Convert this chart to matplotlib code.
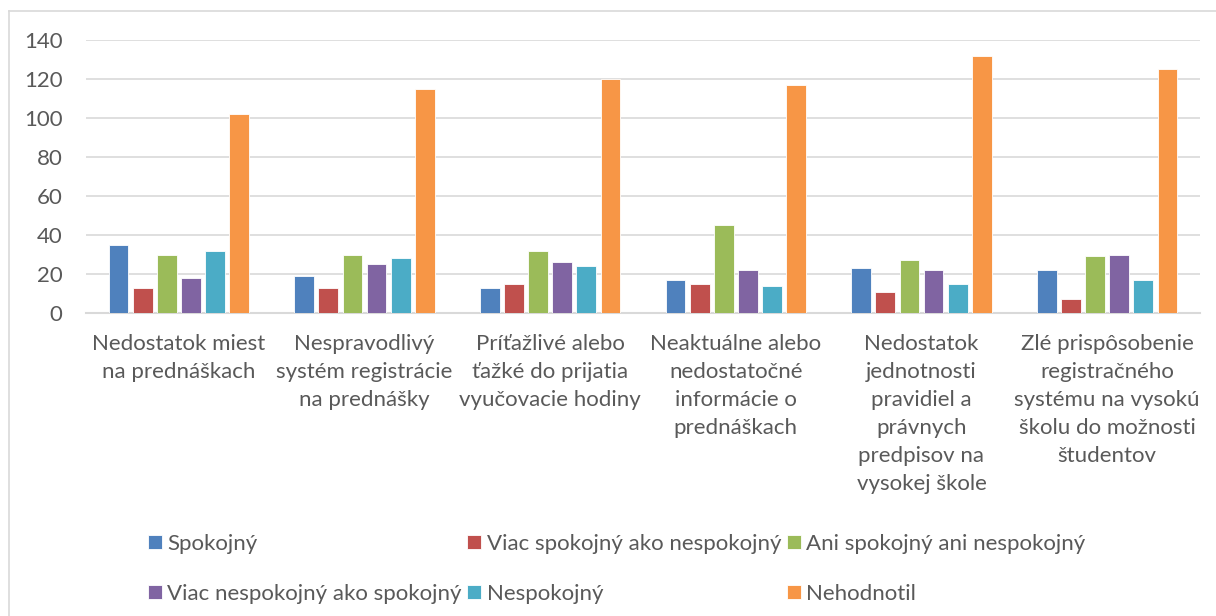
import numpy as np
import matplotlib
matplotlib.use("Agg")
import matplotlib.pyplot as plt
from matplotlib.lines import Line2D

# categories (x axis labels, already wrapped as in the original)
categories = [
    "Nedostatok miest\nna prednáškach",
    "Nespravodlivý\nsystém registrácie\nna prednášky",
    "Príťažlivé alebo\nťažké do prijatia\nvyučovacie hodiny",
    "Neaktuálne alebo\nnedostatočné\ninformácie o\nprednáškach",
    "Nedostatok\njednotnosti\npravidiel a\nprávnych\npredpisov na\nvysokej škole",
    "Zlé prispôsobenie\nregistračného\nsystému na vysokú\nškolu do možnosti\nštudentov",
]

series_names = [
    "Spokojný",
    "Viac spokojný ako nespokojný",
    "Ani spokojný ani nespokojný",
    "Viac nespokojný ako spokojný",
    "Nespokojný",
    "Nehodnotil",
]

spokojny = [35, 19, 13, 17, 23, 22]
viac_spokojny = [13, 13, 15, 15, 11, 7]
ani_ani = [30, 30, 32, 45, 27, 29]
viac_nespokojny = [18, 25, 26, 22, 22, 30]
nespokojny = [32, 28, 24, 14, 15, 17]
nehodnotil = [102, 115, 120, 117, 132, 125]

values = [spokojny, viac_spokojny, ani_ani, viac_nespokojny, nespokojny, nehodnotil]
colors = ["#4F81BD", "#C0504D", "#9BBB59", "#8064A2", "#4BACC6", "#F79646"]

text_col = "#595959"
grid_col = "#D9D9D9"
plt.rcParams["font.family"] = ["Lato", "DejaVu Sans"]
fs = 16

W, H = 1216, 616
fig = plt.figure(figsize=(W / 100, H / 100), dpi=100)
# axes area in pixels: left 86, right 1200, top 40, bottom 313
ax = fig.add_axes([86 / W, 1 - 313 / H, (1200 - 86) / W, (313 - 40) / H])

x = np.arange(len(categories))
n = len(values)
slot = 0.78 / n
for i, (vals, c) in enumerate(zip(values, colors)):
    offs = (i - (n - 1) / 2) * slot
    ax.bar(x + offs, vals, width=slot * 0.82, color=c, label=series_names[i],
           edgecolor="white", linewidth=0.6, zorder=3)

ax.set_xlim(-0.5, len(categories) - 0.5)
ax.set_ylim(0, 140)
ax.set_yticks(range(0, 141, 20))
ax.grid(axis="y", color=grid_col, linewidth=1.2, zorder=0)
for s in ["top", "right", "left"]:
    ax.spines[s].set_visible(False)
ax.spines["bottom"].set_color(grid_col)
ax.spines["bottom"].set_linewidth(1.5)
ax.tick_params(axis="y", length=0, pad=17, labelsize=fs, labelcolor=text_col)
ax.tick_params(axis="x", length=0, pad=15, labelsize=fs, labelcolor=text_col)
ax.set_xticks(x)
ax.set_xticklabels(categories, linespacing=1.5, va="top")

# legend, row-wise order
handles, labels = ax.get_legend_handles_labels()
order = [0, 3, 1, 4, 2, 5]
leg = fig.legend([handles[k] for k in order], [labels[k] for k in order],
                 ncol=3, loc="upper left", bbox_to_anchor=(148 / W, 1 - 534 / H),
                 frameon=False, fontsize=fs, handlelength=0.62, handleheight=0.62,
                 handletextpad=0.25, columnspacing=0.25, labelspacing=1.35,
                 borderaxespad=0, borderpad=0)
for t in leg.get_texts():
    t.set_color(text_col)

# partial chart frame (left and top edge visible in crop)
fig.add_artist(Line2D([9 / W, 9 / W], [0, 1 - 11 / H], color=grid_col, linewidth=1.2))
fig.add_artist(Line2D([9 / W, 1], [1 - 11 / H, 1 - 11 / H], color=grid_col, linewidth=1.2))

fig.savefig("out.png", dpi=100)
